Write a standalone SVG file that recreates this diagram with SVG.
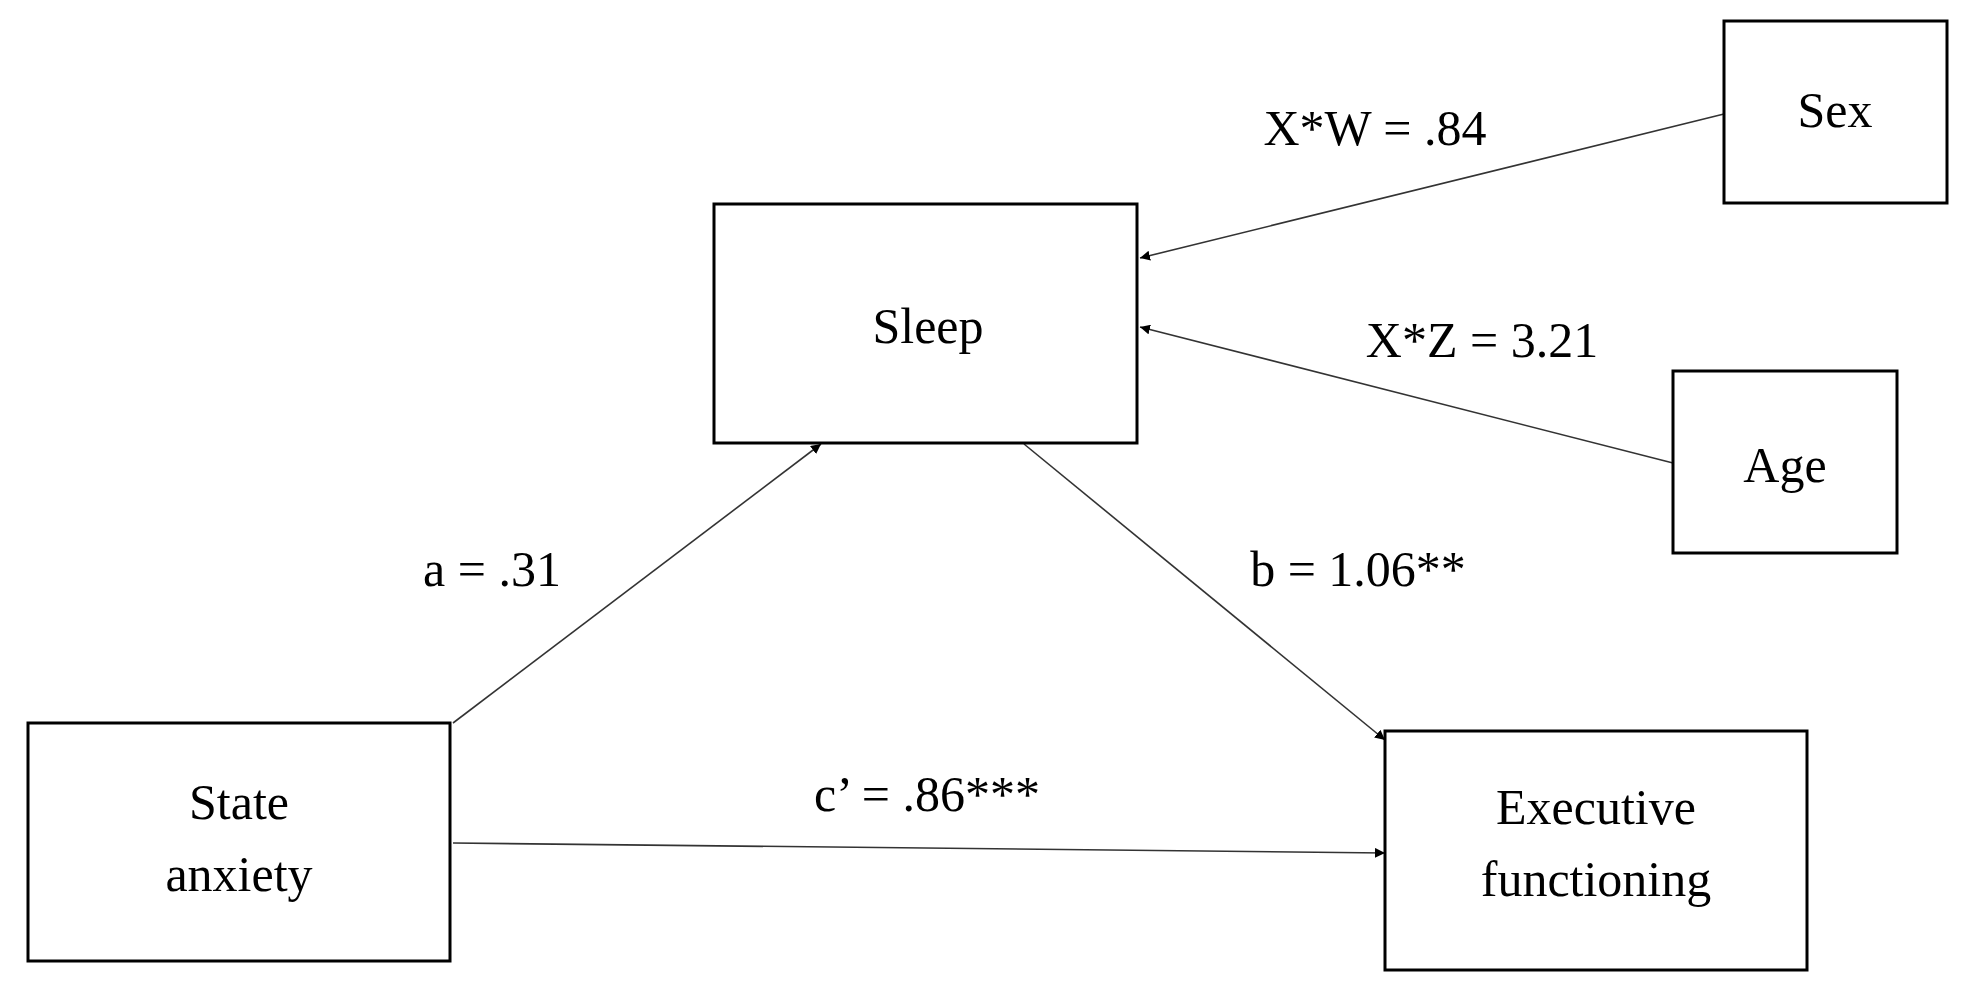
<svg xmlns="http://www.w3.org/2000/svg" width="1972" height="994" viewBox="0 0 1972 994">
<style>
rect{fill:#fff;stroke:#000;stroke-width:3}
text{font-family:"Liberation Serif",serif;font-size:50px;fill:#000;text-anchor:middle}
.c line{stroke:#333;stroke-width:1.6;marker-end:url(#ah)}
</style>
<defs><marker id="ah" viewBox="0 0 10 10" refX="10" refY="5" markerWidth="10" markerHeight="10" markerUnits="userSpaceOnUse" orient="auto"><path d="M0,0L10,5L0,10z" fill="#000"/></marker></defs>
<rect x="0" y="0" width="1972" height="994" style="stroke:none"/>
<g class="c">
<line x1="1724" y1="114" x2="1140" y2="258"/>
<line x1="1673" y1="463" x2="1140" y2="327"/>
<line x1="453" y1="723" x2="821" y2="444"/>
<line x1="1024" y1="444" x2="1385" y2="740"/>
<line x1="453" y1="843" x2="1385" y2="853"/>
</g>
<g id="labels">
<text x="1375" y="145">X*W = .84</text>
<text x="1482" y="357">X*Z = 3.21</text>
<text x="492" y="586">a = .31</text>
<text x="1358" y="586">b = 1.06**</text>
<text x="927" y="811">c’ = .86***</text>
</g>
<g id="sex"><rect x="1724" y="21" width="223" height="182"/><text x="1835" y="127">Sex</text></g>
<g id="sleep"><rect x="714" y="204" width="423" height="239"/><text x="928" y="343">Sleep</text></g>
<g id="age"><rect x="1673" y="371" width="224" height="182"/><text x="1785" y="482">Age</text></g>
<g id="state"><rect x="28" y="723" width="422" height="238"/><text x="239" y="819">State</text><text x="239" y="891">anxiety</text></g>
<g id="exec"><rect x="1385" y="731" width="422" height="239"/><text x="1596" y="824">Executive</text><text x="1596" y="896">functioning</text></g>
</svg>
